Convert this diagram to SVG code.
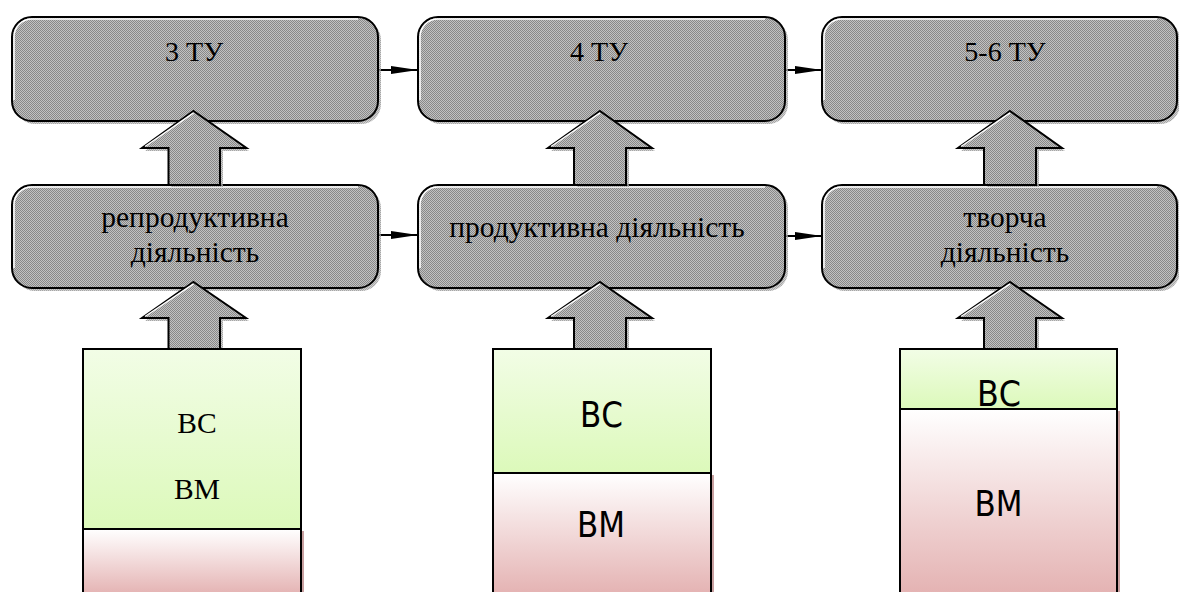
<svg xmlns="http://www.w3.org/2000/svg" width="1179" height="592" viewBox="0 0 1179 592">
<defs>
<pattern id="dith" width="2" height="2" patternUnits="userSpaceOnUse">
<rect width="2" height="2" fill="#c2c2c2"/>
<rect width="1" height="1" fill="#888888"/>
<rect x="1" y="1" width="1" height="1" fill="#888888"/>
</pattern>
<linearGradient id="green" x1="0" y1="0" x2="0" y2="1">
<stop offset="0" stop-color="#f2fde6"/>
<stop offset="1" stop-color="#dcf9ba"/>
</linearGradient>
<linearGradient id="pink" x1="0" y1="0" x2="0" y2="1">
<stop offset="0" stop-color="#ffffff"/>
<stop offset="1" stop-color="#e4b2b2"/>
</linearGradient>
<marker id="ah" markerWidth="27" markerHeight="10" refX="27" refY="5" orient="auto" markerUnits="userSpaceOnUse">
<path d="M0,1 L27,5 L0,9 Z" fill="#000"/>
</marker>
</defs>
<style>
.shadow{fill:url(#dith);opacity:0.75}
.box{fill:url(#dith);stroke:#000;stroke-width:2}
.hl{fill:none;stroke:#fff;stroke-width:1.5}
.ser{font-family:"Liberation Serif","Times New Roman",serif;font-size:29.5px;fill:#000;text-anchor:middle}
.tu{font-size:28px}
.san{font-family:"DejaVu Sans",Tahoma,sans-serif;font-size:36px;fill:#000;text-anchor:middle}
.conn{stroke:#000;stroke-width:2;fill:none;marker-end:url(#ah)}
.barrow{fill:url(#dith);stroke:#000;stroke-width:2;stroke-linejoin:miter}
.green{fill:url(#green);stroke:#000;stroke-width:2}
.pink{fill:url(#pink);stroke:#000;stroke-width:2}
.pshadow{fill:#c9a0a0}
</style>

<g id="connectors">
<line class="conn" x1="379" y1="70" x2="418" y2="70"/>
<line class="conn" x1="786" y1="70" x2="822" y2="70"/>
<line class="conn" x1="379" y1="235" x2="418" y2="235"/>
<line class="conn" x1="786" y1="236" x2="822" y2="236"/>
</g>

<g id="tu3">
<rect class="shadow" x="15" y="20" width="366" height="104" rx="20"/>
<rect class="box" x="12" y="17" width="366" height="104" rx="20"/>
<path class="hl" d="M14,100 V37 A18,18 0 0 1 32,19 H358"/>
<text class="ser tu" x="194" y="61">3 ТУ</text>
</g>
<g id="tu4">
<rect class="shadow" x="421" y="20" width="367" height="104" rx="20"/>
<rect class="box" x="418" y="17" width="367" height="104" rx="20"/>
<path class="hl" d="M420,100 V37 A18,18 0 0 1 438,19 H765"/>
<text class="ser tu" x="599" y="61">4 ТУ</text>
</g>
<g id="tu56">
<rect class="shadow" x="825" y="20" width="355" height="104" rx="20"/>
<rect class="box" x="822" y="17" width="355" height="104" rx="20"/>
<path class="hl" d="M824,100 V37 A18,18 0 0 1 842,19 H1157"/>
<text class="ser tu" x="1005" y="61">5-6 ТУ</text>
</g>

<g id="reprod">
<rect class="shadow" x="15" y="188" width="366" height="103" rx="20"/>
<rect class="box" x="12" y="185" width="366" height="103" rx="20"/>
<path class="hl" d="M14,268 V205 A18,18 0 0 1 32,187 H358"/>
<text class="ser" x="195" y="227">репродуктивна</text>
<text class="ser" x="195" y="262">діяльність</text>
</g>
<g id="prod">
<rect class="shadow" x="421" y="188" width="367" height="103" rx="20"/>
<rect class="box" x="418" y="185" width="367" height="103" rx="20"/>
<path class="hl" d="M420,268 V205 A18,18 0 0 1 438,187 H765"/>
<text class="ser" x="597" y="237">продуктивна діяльність</text>
</g>
<g id="tvorcha">
<rect class="shadow" x="825" y="188" width="355" height="103" rx="20"/>
<rect class="box" x="822" y="185" width="355" height="103" rx="20"/>
<path class="hl" d="M824,268 V205 A18,18 0 0 1 842,187 H1157"/>
<text class="ser" x="1005" y="227">творча</text>
<text class="ser" x="1005" y="262">діяльність</text>
</g>

<g id="up1a">
<path class="shadow" d="M196,114 L249,151 L223,151 L223,187 L171,187 L171,151 L145,151 Z"/>
<path class="barrow" d="M193.5,111 L246.5,148 L220,148 L220,185 L168.5,185 L168.5,148 L142,148 Z"/>
<path class="hl" d="M145,146.5 L193.5,112.8"/>
</g>
<g id="up2a">
<path class="shadow" d="M603,114 L655,151 L629,151 L629,187 L577,187 L577,151 L551,151 Z"/>
<path class="barrow" d="M600,111 L652,148 L626,148 L626,185 L574,185 L574,148 L548,148 Z"/>
<path class="hl" d="M551,146.5 L600,112.8"/>
</g>
<g id="up3a">
<path class="shadow" d="M1013,114 L1065,151 L1039,151 L1039,187 L987,187 L987,151 L961,151 Z"/>
<path class="barrow" d="M1010,111 L1062,148 L1036,148 L1036,185 L984,185 L984,148 L958,148 Z"/>
<path class="hl" d="M961,146.5 L1010,112.8"/>
</g>

<g id="up1b">
<path class="shadow" d="M196,285 L249,321 L223,321 L223,349 L171,349 L171,321 L145,321 Z"/>
<path class="barrow" d="M193.5,282 L246,318 L220,318 L220,349 L168.5,349 L168.5,318 L142,318 Z"/>
<path class="hl" d="M145,316.5 L193.5,283.8"/>
</g>
<g id="up2b">
<path class="shadow" d="M603,285 L655,321 L629,321 L629,349 L577,349 L577,321 L551,321 Z"/>
<path class="barrow" d="M600,282 L652,318 L626,318 L626,349 L574,349 L574,318 L548,318 Z"/>
<path class="hl" d="M551,316.5 L600,283.8"/>
</g>
<g id="up3b">
<path class="shadow" d="M1013,285 L1065,321 L1039,321 L1039,349 L987,349 L987,321 L961,321 Z"/>
<path class="barrow" d="M1010,282 L1062,318 L1036,318 L1036,349 L984,349 L984,318 L958,318 Z"/>
<path class="hl" d="M961,316.5 L1010,283.8"/>
</g>

<g id="col1">
<rect class="pshadow" x="301" y="531" width="3" height="62"/>
<rect class="pink" x="83" y="529" width="218" height="66"/>
<rect class="green" x="83" y="349" width="218" height="180"/>
<text class="ser" x="197" y="433">ВС</text>
<text class="ser" x="197" y="499">ВМ</text>
</g>
<g id="col2">
<rect class="pshadow" x="711" y="475" width="3" height="118"/>
<rect class="pink" x="493" y="473" width="218" height="122"/>
<rect class="green" x="493" y="349" width="218" height="124"/>
<text class="san" x="601.5" y="427" textLength="43" lengthAdjust="spacingAndGlyphs">ВС</text>
<text class="san" x="601" y="537" textLength="48" lengthAdjust="spacingAndGlyphs">ВМ</text>
</g>
<g id="col3">
<rect class="pshadow" x="1117" y="411" width="3" height="182"/>
<rect class="pink" x="900" y="409" width="217" height="186"/>
<rect class="green" x="900" y="349" width="217" height="60"/>
<text class="san" x="999" y="406" textLength="44" lengthAdjust="spacingAndGlyphs">ВС</text>
<text class="san" x="998.5" y="516" textLength="48" lengthAdjust="spacingAndGlyphs">ВМ</text>
</g>
</svg>
